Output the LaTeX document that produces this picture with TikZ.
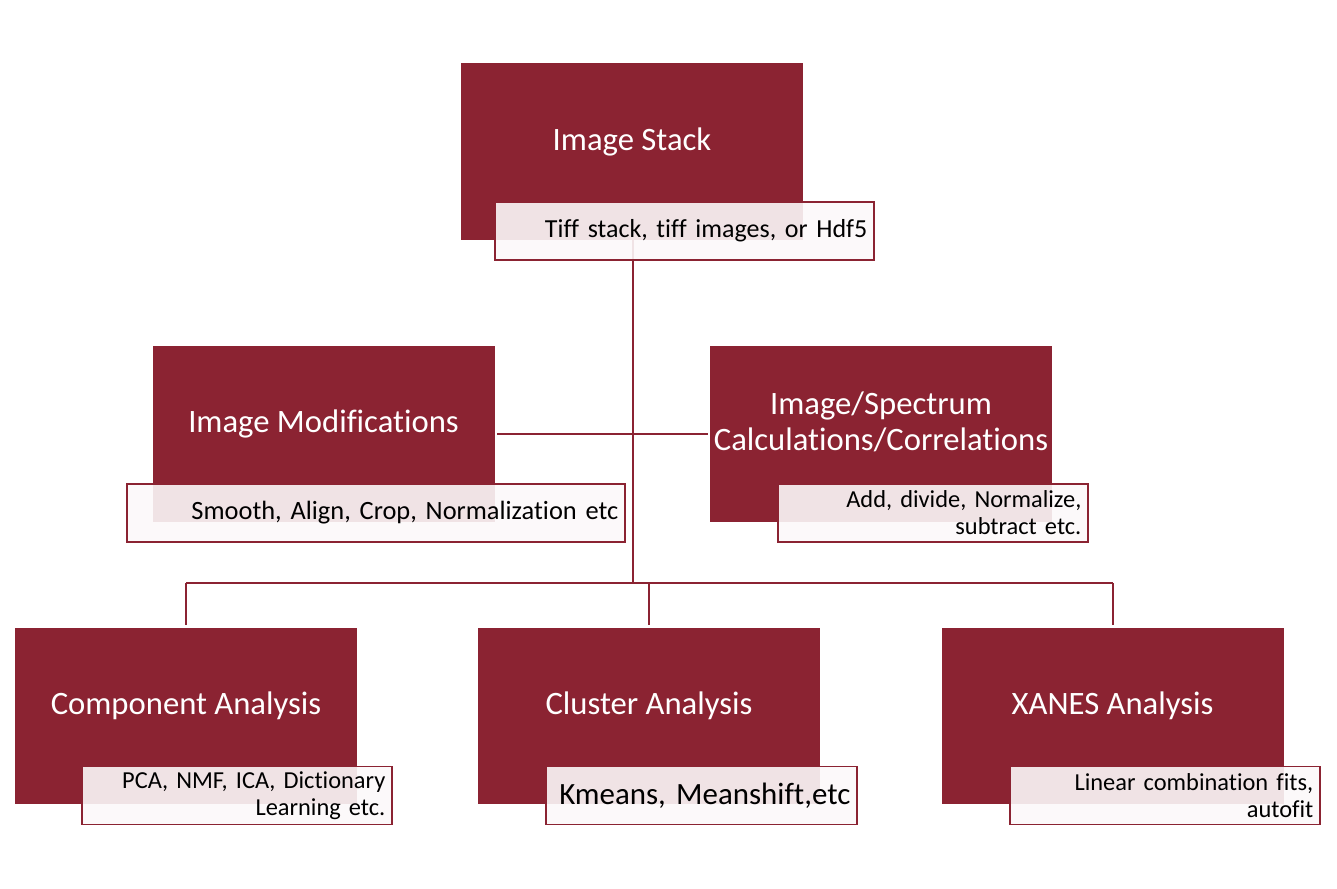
\documentclass[tikz,border=0pt]{standalone}
\usepackage{fontspec}
\setmainfont[RawFeature={-liga;-calt;-clig}]{Carlito}
\usetikzlibrary{positioning}
\definecolor{wine}{RGB}{139, 35, 50}
\tikzstyle{block} = [rectangle, fill=wine, text=white, align=center, font=\fontsize{24.5}{27}\selectfont, minimum width=256.5pt, minimum height=132pt, inner sep=0pt, text height=18pt, text depth=19.6pt]
\tikzstyle{tag} = [rectangle, draw=wine, line width=1.3pt, fill=white!97!wine, fill opacity=0.9, text opacity=1, text=black, align=right, font=\fontsize{18.3}{20.3}\selectfont, minimum height=43.5pt, inner xsep=5pt, inner ysep=0pt]
\tikzstyle{tline} = [draw=wine, line width=1.5pt]

\begin{document}
\begin{tikzpicture}[x=0.75pt, y=-0.75pt]
\useasboundingbox (0,0) rectangle (1337,888);
%blocks
\node[block] (stack) at (632,151.5) {Image Stack};
\node[block] (mod) at (323.5,434) {Image Modifications};
\node[block, text height=35pt, text depth=9.6pt] (calc) at (881,434) {Image/Spectrum\\Calculations/Correlations};
\node[block] (comp) at (186,716) {Component Analysis};
\node[block] (clus) at (649,716) {Cluster Analysis};
\node[block] (xan) at (1112.5,716) {XANES Analysis};

%paths
\coordinate (hub) at (633,583);
\path[tline] (stack.south -| hub) -- (hub);
\path[tline] ([xshift=2pt]mod.east) -- ([xshift=-1pt]calc.west);
\path[tline] (comp.north |- hub) -- (xan.north |- hub);
\path[tline] (comp.north |- hub) -- ([yshift=2pt]comp.north);
\path[tline] (clus.north |- hub) -- ([yshift=2pt]clus.north);
\path[tline] (xan.north |- hub) -- ([yshift=2pt]xan.north);

%tags
\node[tag, text width=274.25pt, font=\fontsize{19.5}{22}\selectfont] (stacktag) at (684.5,231) {Tiff stack, tiff images, or Hdf5};
\node[tag, text width=363.5pt, font=\fontsize{19.8}{22}\selectfont] (modtag) at (376,513) {Smooth, Align, Crop, Normalization etc};
\node[tag, text width=222.5pt] (calctag) at (933,513) {Add, divide, Normalize,\\subtract etc.};
\node[tag, text width=222.5pt] (comptag) at (237,795.5) {PCA, NMF, ICA, Dictionary\\Learning etc.};
\node[tag, text width=223.25pt, font=\fontsize{23.2}{26}\selectfont] (clustag) at (701.5,795.5) {Kmeans, Meanshift,etc};
\node[tag, text width=222.5pt] (xantag) at (1165,795.5) {Linear combination fits,\\autofit};

\end{tikzpicture}
\end{document}
